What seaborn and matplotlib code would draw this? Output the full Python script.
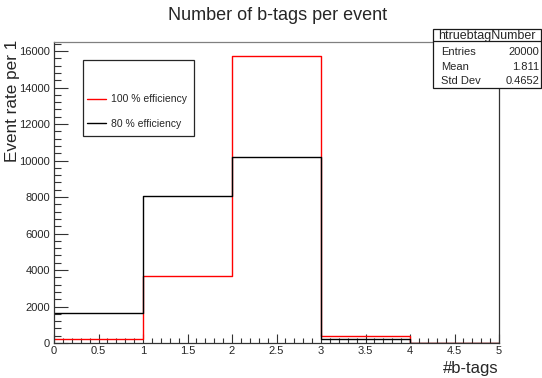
import matplotlib
matplotlib.use('Agg')
import matplotlib.pyplot as plt
from matplotlib.lines import Line2D
from matplotlib.patches import Rectangle
from matplotlib.ticker import MultipleLocator
import numpy as np
import pandas as pd
import seaborn as sns

# b-tag multiplicity, one bin per integer value
n_btags = [0, 1, 2, 3, 4]
bin_edges = [0, 1, 2, 3, 4, 5]
eff100_counts = [220, 3670, 15726, 384, 0]
eff80_counts = [1644, 8055, 10192, 200, 0]
series_labels = ['100 % efficiency', '80 % efficiency']
series_colors = {'100 % efficiency': '#ff0000', '80 % efficiency': '#000000'}

stats_name = 'htruebtagNumber'
stats_rows = [('Entries', '20000'), ('Mean', '1.811'), ('Std Dev', '0.4652')]

sns.set_style('ticks')
plt.rcParams['font.family'] = ['Liberation Sans', 'DejaVu Sans']

df = pd.DataFrame({
    'b_tags': n_btags * 2,
    'count': eff100_counts + eff80_counts,
    'efficiency': [series_labels[0]] * len(n_btags) + [series_labels[1]] * len(n_btags),
})

W, H = 542, 378
fig = plt.figure(figsize=(W / 100, H / 100), dpi=100)
ax = fig.add_axes([54 / W, 1 - 343 / H, 445 / W, 301 / H])

# hue is drawn in reverse order, so the 80 % histogram ends up on top
sns.histplot(data=df, x='b_tags', weights='count', hue='efficiency',
             hue_order=[series_labels[1], series_labels[0]], palette=series_colors,
             bins=bin_edges, element='step', fill=False, linewidth=1,
             legend=False, ax=ax)

ax.set_xlim(0, 5)
ax.set_ylim(0, 16500)
ax.set_xlabel('')
ax.set_ylabel('')
ax.xaxis.set_major_locator(MultipleLocator(0.5))
ax.xaxis.set_minor_locator(MultipleLocator(0.1))
ax.yaxis.set_major_locator(MultipleLocator(2000))
ax.yaxis.set_minor_locator(MultipleLocator(400))
ax.set_xticks(np.arange(0, 5.01, 0.5))
ax.set_xticklabels(['0', '0.5', '1', '1.5', '2', '2.5', '3', '3.5', '4', '4.5', '5'])
ax.tick_params(which='both', direction='in', top=False, right=False, labelsize=8, width=0.8, color='0.2')
ax.tick_params(axis='y', which='major', length=10, pad=3)
ax.tick_params(axis='y', which='minor', length=5)
ax.tick_params(axis='x', which='major', length=6.5, pad=2)
ax.tick_params(axis='x', which='minor', length=3.5)
for side in ['left', 'bottom', 'right']:
    ax.spines[side].set_color('0.2')
    ax.spines[side].set_linewidth(0.9)
ax.spines['top'].set_color('0.5')
ax.spines['top'].set_linewidth(0.9)

# legend box like ROOT's TLegend
ax.add_patch(Rectangle((0.0652, 0.6877), 0.2494, 0.2525, transform=ax.transAxes,
                       fill=False, edgecolor='0.15', linewidth=0.9, zorder=5))
handles = [Line2D([], [], color=series_colors[s], lw=1) for s in series_labels]
ax.legend(handles, series_labels, loc='upper left', bbox_to_anchor=(0.074, 0.826),
          frameon=False, fontsize=7.5, borderpad=0, borderaxespad=0,
          handlelength=1.8, handletextpad=0.5, labelspacing=1.38)

fig.text(278 / W, 1 - 16 / H, 'Number of b-tags per event', ha='center', va='center', fontsize=13)
fig.text(13 / W, 1 - 40 / H, 'Event rate per 1', rotation=90, ha='center', va='top', fontsize=12.3)
fig.text(499 / W, 1 - 369 / H, '#b-tags', ha='right', va='center', fontsize=12)

# stats box
fig.patches.append(Rectangle((433 / W, 1 - 88 / H), 108 / W, 59 / H, transform=fig.transFigure,
                             facecolor='white', edgecolor='0.1', linewidth=0.9, zorder=10))
fig.lines.append(Line2D([433 / W, 541 / W], [1 - 41 / H, 1 - 41 / H], transform=fig.transFigure,
                        color='0.1', linewidth=0.9, zorder=11))
fig.text(487 / W, 1 - 39 / H, stats_name, ha='center', va='baseline', fontsize=9, zorder=12)
for i, (name, val) in enumerate(stats_rows):
    y = 1 - (52 + 14.5 * i) / H
    fig.text(441 / W, y, name, ha='left', va='center', fontsize=8, zorder=12)
    fig.text(539 / W, y, val, ha='right', va='center', fontsize=8, zorder=12)

fig.savefig('out.png', dpi=100)
